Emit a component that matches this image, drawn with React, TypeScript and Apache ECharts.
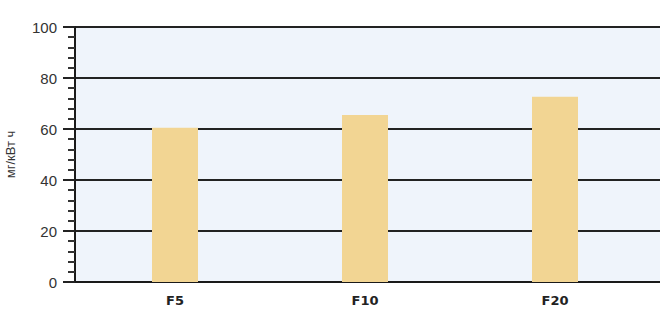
import React, { useEffect, useRef } from "react";
import * as echarts from "echarts";

const categories = ["F5", "F10", "F20"];
const values = [60.5, 65.5, 72.6];
const yTicks = { min: 0, max: 100, interval: 20 };
const yName = "мг/кВт ч";

export default function App() {
  const ref = useRef<HTMLDivElement>(null);
  useEffect(() => {
    const chart = echarts.init(ref.current!, null, { renderer: "svg" });
    chart.setOption({
      animation: false,
      grid: [
        {
          left: 75, right: 0, top: 27, bottom: 30, show: true, backgroundColor: "#eff4fb", borderWidth: 0,
          outerBoundsMode: "none",
        },
        { left: 80, right: 10, top: 27, bottom: 30, outerBoundsMode: "none" },
      ],
      xAxis: [
        {
          gridIndex: 0,
          type: "value",
          min: 0,
          max: 1,
          axisLine: { show: true, onZero: false, lineStyle: { color: "#1a1a1a", width: 2 } },
          axisTick: { show: false },
          axisLabel: { show: false },
          splitLine: { show: false },
        },
        {
          gridIndex: 1,
          type: "category",
          data: categories,
          axisLine: { show: false },
          axisTick: { show: false },
          axisLabel: {
            margin: 12,
            fontFamily: "DejaVu Sans",
            fontWeight: "bold",
            fontSize: 13,
            color: "#222",
          },
        },
      ],
      yAxis: [
        {
          gridIndex: 0,
          type: "value",
          min: yTicks.min,
          max: yTicks.max,
          interval: yTicks.interval,
          name: yName,
          nameLocation: "middle",
          nameGap: 58,
          nameTextStyle: { fontFamily: "Liberation Sans", fontSize: 13, color: "#333" },
          axisLine: { show: true, lineStyle: { color: "#1a1a1a", width: 2 } },
          axisTick: { show: true, length: 12, lineStyle: { color: "#222", width: 2 } },
          minorTick: { show: true, splitNumber: 5, length: 7, lineStyle: { color: "#333", width: 2 } },
          axisLabel: { margin: 18, fontFamily: "Liberation Sans", fontSize: 15, color: "#333" },
          splitLine: { show: true, lineStyle: { color: "#222", width: 2 } },
        },
        {
          gridIndex: 1,
          type: "value",
          min: yTicks.min,
          max: yTicks.max,
          show: false,
          splitLine: { show: false },
        },
      ],
      series: [
        {
          type: "bar",
          xAxisIndex: 1,
          yAxisIndex: 1,
          data: values,
          barWidth: 46,
          itemStyle: { color: "#f2d593" },
          z: 5,
        },
      ],
    });
    return () => chart.dispose();
  }, []);
  return (
    <div
      ref={ref}
      style={{ position: "fixed", left: 0, top: 0, width: 660, height: 312, background: "#fff" }}
    />
  );
}
